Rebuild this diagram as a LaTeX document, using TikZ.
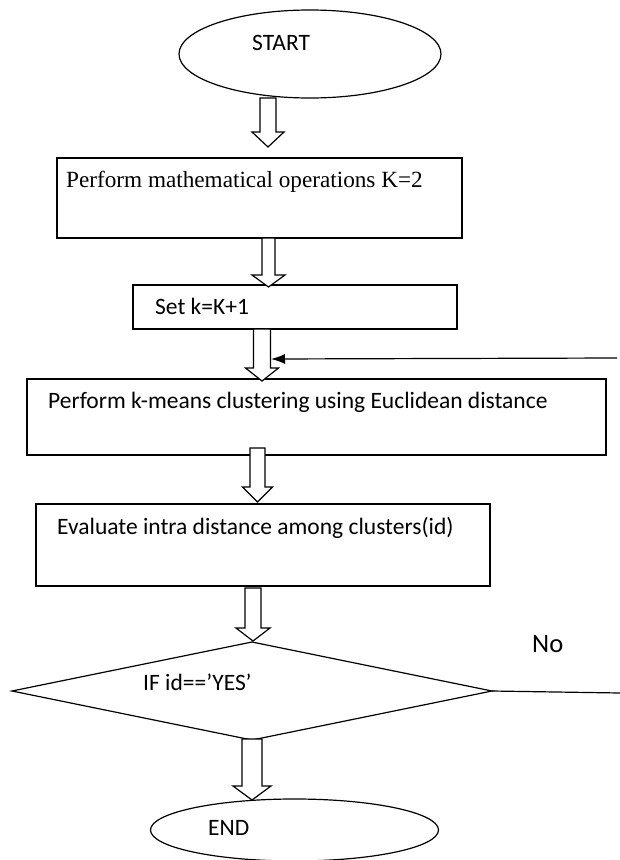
\documentclass[tikz,border=0pt]{standalone}
\usepackage{fontspec}
\setmainfont{Carlito}
\newfontfamily\timesf{Liberation Serif}
\usetikzlibrary{shapes.geometric,arrows.meta}
\newcommand\barrow[6]{%
  \draw[hollow] ({#1-#5},#2) -- ({#1-#5},#3) -- ({#1-#6},#3) -- (#1,#4) -- ({#1+#6},#3) -- ({#1+#5},#3) -- ({#1+#5},#2) -- cycle;}
\begin{document}
\begin{tikzpicture}[x=1pt,y=-1pt,
  box/.style={draw, line width=1.2pt, rectangle, inner sep=0pt, outer sep=0pt},
  oval/.style={draw, line width=1.2pt, ellipse, inner sep=0pt, outer sep=0pt},
  dia/.style={draw, line width=1.2pt, diamond, inner sep=0pt, outer sep=0pt},
  txt/.style={inner sep=0pt, anchor=base west, font=\fontsize{23.5}{28}\selectfont},
  hollow/.style={draw, line width=1.2pt, fill=white, line join=miter},
  conn/.style={line width=1.2pt}]
\useasboundingbox (0,0) rectangle (620,860);

% shapes
\node[oval, minimum width=262pt, minimum height=88pt] (start) at (310,54) {};
\node[box, minimum width=405pt, minimum height=80pt] (b1) at (259.5,198) {};
\node[box, minimum width=324pt, minimum height=44pt] (b2) at (295,307) {};
\node[box, minimum width=579pt, minimum height=76pt] (b3) at (316.5,417) {};
\node[box, minimum width=454pt, minimum height=82pt] (b4) at (263,545) {};
\node[dia, minimum width=480pt, minimum height=98pt] (dec) at (252,691) {};
\node[oval, minimum width=288pt, minimum height=62pt] (end) at (294.5,830) {};

% texts
\node[txt] (tstart) at (252,50) {START};
\node[txt, font=\timesf\fontsize{23.2}{28}\selectfont] (t1) at (66,187) {Perform mathematical operations K=2};
\node[txt] (t2) at (155,314) {Set k=K+1};
\node[txt] (t3) at (48,408) {Perform k-means clustering using Euclidean distance};
\node[txt] (t4) at (57,534) {Evaluate intra distance among clusters(id)};
\node[txt] (tif) at (143,690) {IF id==’YES’};
\node[txt, font=\fontsize{26.5}{30}\selectfont] (tno) at (532,652) {No};
\node[txt] (tend) at (208,835) {END};

% side lines
\coordinate (fbStart) at (617,358);
\coordinate (fbEnd) at (271,359);
\draw[conn, -{Latex[length=14pt,width=10pt]}] (fbStart) -- (fbEnd);
\coordinate (noEnd) at (620,693);
\draw[conn] (dec.east) -- (noEnd);

% block arrows
\barrow{268}{98}{132}{147}{8}{16}
\barrow{268.5}{238}{275}{287}{6.5}{16.5}
\barrow{262}{329}{368}{381}{8.5}{16.5}
\barrow{257.5}{448}{487}{502}{7.5}{15}
\barrow{253}{588}{628}{641}{8}{17}
\barrow{252}{739}{786}{800}{10}{19}
\end{tikzpicture}
\end{document}
